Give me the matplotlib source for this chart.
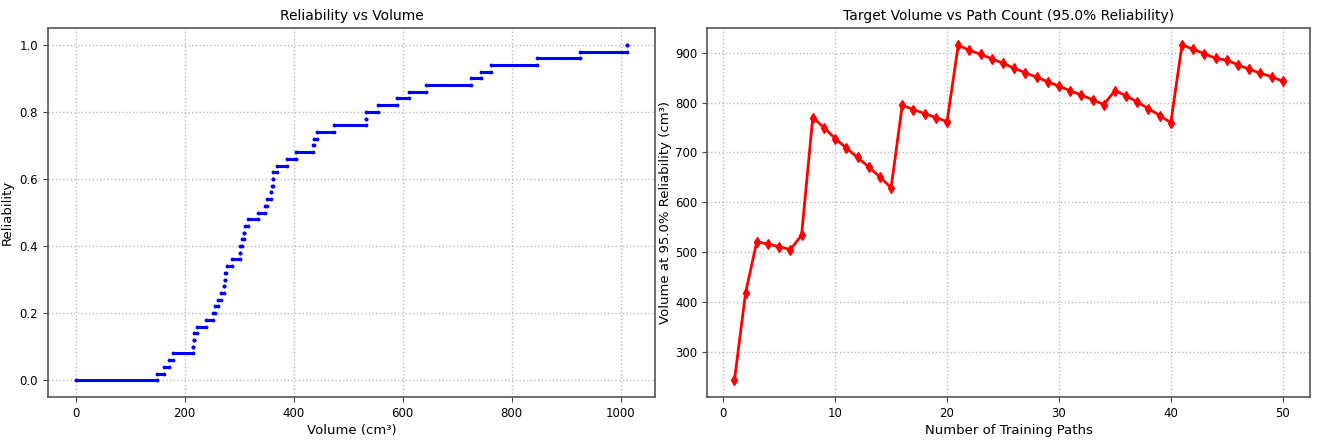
import numpy as np
import matplotlib
matplotlib.use("Agg")
import matplotlib.pyplot as plt

# left panel: reliability steps (level, volume range where it holds)
rel_levels = [0.00, 0.02, 0.04, 0.06, 0.08, 0.10, 0.12, 0.14, 0.16, 0.18,
              0.20, 0.22, 0.24, 0.26, 0.28, 0.30, 0.32, 0.34, 0.36, 0.38,
              0.40, 0.42, 0.44, 0.46, 0.48, 0.50, 0.52, 0.54, 0.56, 0.58,
              0.60, 0.62, 0.64, 0.66, 0.68, 0.70, 0.72, 0.74, 0.76, 0.78,
              0.80, 0.82, 0.84, 0.86, 0.88, 0.90, 0.92, 0.94, 0.96, 0.98,
              1.00]
vol_from = [0, 150, 162, 171, 178, 215, 217, 218, 222, 239,
            252, 256, 261, 266, 273, 274, 275, 277, 287, 301,
            302, 305, 309, 310, 316, 334, 348, 351, 358, 360,
            362, 363, 370, 388, 404, 436, 438, 442, 475, 532,
            532, 555, 589, 611, 642, 726, 743, 763, 846, 925,
            1012]
vol_to = [150, 162, 171, 178, 215, 216, 217, 222, 239, 252,
          256, 261, 266, 272, 273, 274, 276, 287, 301, 301,
          305, 309, 309, 316, 334, 348, 351, 358, 359, 362,
          363, 370, 388, 404, 436, 437, 442, 475, 532, 532,
          555, 589, 611, 642, 726, 743, 763, 846, 925, 1011,
          1012]

# right panel: volume at 95% reliability per number of training paths
n_paths = np.arange(1, 51)
vol95 = [243, 419, 521, 516, 511, 505, 534, 770, 750, 728,
         709, 690, 671, 651, 629, 795, 786, 778, 770, 762,
         915, 905, 897, 888, 879, 869, 860, 851, 842, 833,
         824, 815, 806, 796, 824, 814, 801, 788, 774, 760,
         916, 907, 898, 889, 885, 876, 867, 859, 852, 843]

fig = plt.figure(figsize=(13.25, 4.4), dpi=100)
ax1 = fig.add_axes([0.0362, 0.0977, 0.458, 0.8386])
ax2 = fig.add_axes([0.5336, 0.0977, 0.4552, 0.8386])

for r, a, b in zip(rel_levels, vol_from, vol_to):
    ax1.plot([a, b], [r, r], color='blue', lw=2.2, marker='.', ms=3.5,
             solid_capstyle='butt')
ax1.set_title("Reliability vs Volume", fontsize=10)
ax1.set_xlabel("Volume (cm³)", fontsize=9.5, labelpad=3)
ax1.set_ylabel("Reliability", fontsize=9.5)

ax2.plot(n_paths, vol95, color='red', lw=2, marker='d', ms=5)
ax2.set_title("Target Volume vs Path Count (95.0% Reliability)", fontsize=10)
ax2.set_xlabel("Number of Training Paths", fontsize=9.5, labelpad=3)
ax2.set_ylabel("Volume at 95.0% Reliability (cm³)", fontsize=9.5, labelpad=2)

for ax in (ax1, ax2):
    ax.grid(True, linestyle=':', lw=1, color='#aaaaaa', alpha=0.8)
    ax.tick_params(labelsize=8.5, color='#444444')
    for s in ax.spines.values():
        s.set_color('#555555')
        s.set_linewidth(1.2)

fig.savefig('out.png', dpi=100)
